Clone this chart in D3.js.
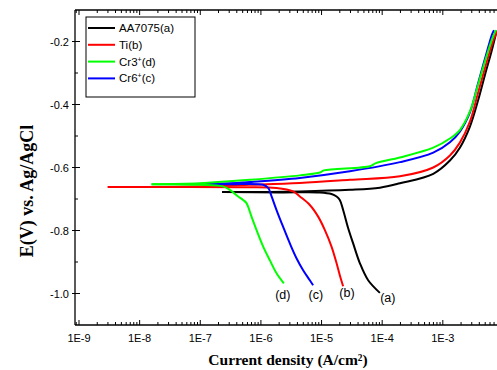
<!DOCTYPE html>
<html><head><meta charset="utf-8">
<script src="https://cdn.jsdelivr.net/npm/d3@7/dist/d3.min.js"></script>
<style>body{margin:0;background:#fff;}svg{display:block;}</style>
</head><body>
<svg id="c" width="497" height="370"></svg>
<script>
// ---- data (current density A/cm², potential V vs Ag/AgCl) ----
const seriesNames = ["AA7075(a)", "Ti(b)", "Cr3+(d)", "Cr6+(c)"];
const seriesColors = ["#000000", "#ff0000", "#00ff00", "#0000ff"];

const aa7075I = [9.16e-5,5.87e-5,4.29e-5,3.32e-5,2.75e-5,2.27e-5,2.00e-5,1.77e-5,1.46e-5,9.38e-6,2.05e-6,2.29e-7,
                 4.39e-6,2.93e-5,9.16e-5,1.96e-4,6.95e-4,1.31e-3,1.91e-3,2.80e-3,3.84e-3,4.95e-3,6.38e-3,7.73e-3];
const aa7075E = [-0.998,-0.958,-0.904,-0.841,-0.793,-0.735,-0.703,-0.692,-0.684,-0.679,-0.679,-0.678,
                 -0.676,-0.671,-0.664,-0.650,-0.620,-0.578,-0.537,-0.470,-0.385,-0.306,-0.230,-0.166];

const tiI = [2.27e-5,2.00e-5,1.77e-5,1.46e-5,1.13e-5,8.79e-6,6.41e-6,4.39e-6,3.40e-6,1.81e-6,4.49e-7,4.59e-8,2.98e-9,
             1.0e-7,6.56e-7,4.39e-6,2.93e-5,1.96e-4,6.95e-4,1.31e-3,1.91e-3,2.80e-3,3.79e-3,4.95e-3,6.47e-3,7.82e-3];
const tiE = [-0.977,-0.942,-0.904,-0.851,-0.798,-0.756,-0.719,-0.692,-0.676,-0.665,-0.663,-0.662,-0.662,
             -0.660,-0.655,-0.649,-0.639,-0.628,-0.600,-0.562,-0.521,-0.454,-0.365,-0.285,-0.209,-0.167];

const cr6I = [7.26e-6,6.41e-6,4.97e-6,3.86e-6,3.00e-6,2.32e-6,1.81e-6,1.50e-6,1.32e-6,1.09e-6,3.07e-7,7.43e-8,
              3.0e-7,6.56e-7,4.39e-6,2.93e-5,1.96e-4,6.95e-4,1.31e-3,1.91e-3,2.80e-3,3.79e-3,4.95e-3,6.47e-3,6.98e-3];
const cr6E = [-0.974,-0.958,-0.926,-0.888,-0.841,-0.788,-0.735,-0.692,-0.665,-0.655,-0.653,-0.652,
              -0.650,-0.646,-0.633,-0.612,-0.583,-0.553,-0.520,-0.486,-0.425,-0.335,-0.255,-0.178,-0.164];

const cr3I = [2.39e-6,1.81e-6,1.40e-6,1.09e-6,8.45e-7,7.00e-7,5.78e-7,5.08e-7,4.21e-7,3.07e-7,2.35e-7,9.82e-8,1.57e-8,
              1.0e-7,6.56e-7,4.39e-6,9.38e-6,1.09e-5,6.27e-5,7.87e-5,1.96e-4,6.95e-4,1.31e-3,1.91e-3,2.80e-3,3.79e-3,4.95e-3,6.47e-3,7.52e-3];
const cr3E = [-0.968,-0.936,-0.894,-0.851,-0.798,-0.756,-0.713,-0.703,-0.692,-0.671,-0.660,-0.655,-0.653,
              -0.650,-0.639,-0.625,-0.616,-0.609,-0.596,-0.586,-0.568,-0.537,-0.508,-0.481,-0.422,-0.339,-0.263,-0.193,-0.164];

const xTickValues = [1e-9,1e-8,1e-7,1e-6,1e-5,1e-4,1e-3];
const xTickLabels = ["1E-9","1E-8","1E-7","1E-6","1E-5","1E-4","1E-3"];
const yTickValues = [-0.2,-0.4,-0.6,-0.8,-1.0];
const yTickLabels = ["-0.2","-0.4","-0.6","-0.8","-1.0"];
const yMinorValues = [-0.3,-0.5,-0.7,-0.9];

const curveLabels = ["(d)","(c)","(b)","(a)"];
const curveLabelI = [2.30e-6, 8.05e-6, 2.62e-5, 1.24e-4];
const curveLabelE = [-1.002, -1.002, -0.998, -1.012];

// ---- layout ----
const svg = d3.select("#c");
const L = 75, T = 10, B = 325, R = 498;
const x = d3.scaleLog().domain([Math.pow(10,-9.066), Math.pow(10,-2.09)]).range([L, R]);
const y = d3.scaleLinear().domain([-1.1, -0.1]).range([B, T]);

const font = "'Liberation Sans', Arial, sans-serif";
const serif = "'Liberation Serif', 'Times New Roman', serif";

svg.append("defs").append("clipPath").attr("id","clip")
  .append("rect").attr("x",L).attr("y",T).attr("width",R-L).attr("height",B-T);

// curves: cathodic branch and anodic branch split at lowest current
const line = d3.line().x(d=>x(d[0])).y(d=>y(d[1])).curve(d3.curveCatmullRom.alpha(0.5));
const series = [
  {I: aa7075I, E: aa7075E, c: seriesColors[0]},
  {I: tiI, E: tiE, c: seriesColors[1]},
  {I: cr6I, E: cr6E, c: seriesColors[3]},
  {I: cr3I, E: cr3E, c: seriesColors[2]}
];
const g = svg.append("g").attr("clip-path","url(#clip)");
series.forEach(s=>{
  const pts = s.I.map((v,i)=>[v,s.E[i]]);
  const k = d3.minIndex(s.I);
  [pts.slice(0,k+1), pts.slice(k)].forEach(seg=>{
    g.append("path").datum(seg)
      .attr("d", line).attr("fill","none").attr("stroke", s.c)
      .attr("stroke-width",2).attr("stroke-linejoin","round");
  });
});

// frame
svg.append("line").attr("x1",L).attr("x2",L).attr("y1",T).attr("y2",B).attr("stroke","#000").attr("stroke-width",1.3);
svg.append("line").attr("x1",L).attr("x2",R).attr("y1",B).attr("y2",B).attr("stroke","#000").attr("stroke-width",1.3);
svg.append("line").attr("x1",L).attr("x2",R).attr("y1",T).attr("y2",T).attr("stroke","#000").attr("stroke-width",1.3);

// x ticks (major + minor), inward, bottom & top
const minor = [];
for (let e=-10;e<=-2;e++) for (let m=2;m<=9;m++){ const v=m*Math.pow(10,e); if (v>x.domain()[0] && v<x.domain()[1]) minor.push(v); }
const ax = svg.append("g");
xTickValues.forEach((v,i)=>{
  const px = x(v);
  ax.append("line").attr("x1",px).attr("x2",px).attr("y1",B).attr("y2",B-5).attr("stroke","#000");
  ax.append("line").attr("x1",px).attr("x2",px).attr("y1",T).attr("y2",T+5).attr("stroke","#000");
  ax.append("text").attr("x",px).attr("y",B+17).attr("text-anchor","middle")
    .attr("font-family",font).attr("font-size",11).text(xTickLabels[i]);
});
minor.forEach(v=>{
  const px = x(v);
  ax.append("line").attr("x1",px).attr("x2",px).attr("y1",B).attr("y2",B-3).attr("stroke","#000");
  ax.append("line").attr("x1",px).attr("x2",px).attr("y1",T).attr("y2",T+3).attr("stroke","#000");
});
// y ticks
yTickValues.forEach((v,i)=>{
  const py = y(v);
  ax.append("line").attr("x1",L-3).attr("x2",L+5).attr("y1",py).attr("y2",py).attr("stroke","#000");
  ax.append("text").attr("x",L-6).attr("y",py+4).attr("text-anchor","end")
    .attr("font-family",font).attr("font-size",11).text(yTickLabels[i]);
});
yMinorValues.forEach(v=>{
  const py = y(v);
  ax.append("line").attr("x1",L).attr("x2",L+3).attr("y1",py).attr("y2",py).attr("stroke","#000");
});

// axis titles
svg.append("text").attr("x",288).attr("y",365).attr("text-anchor","middle")
  .attr("font-family",serif).attr("font-weight","bold").attr("font-size",15.5)
  .text("Current density (A/cm²)");
svg.append("text").attr("transform","translate(33,191) rotate(-90)").attr("text-anchor","middle")
  .attr("font-family",serif).attr("font-weight","bold").attr("font-size",18)
  .text("E(V) vs. Ag/AgCl");

// curve labels
curveLabels.forEach((t,i)=>{
  svg.append("text").attr("x",x(curveLabelI[i])).attr("y",y(curveLabelE[i])+4.5)
    .attr("text-anchor","middle").attr("font-family",font).attr("font-size",12.5).text(t);
});

// legend
const lg = svg.append("g");
lg.append("rect").attr("x",86).attr("y",17).attr("width",109).attr("height",80)
  .attr("fill","#fff").attr("stroke","#000").attr("stroke-width",1);
const legendRows = [
  {name:"AA7075(a)", c:seriesColors[0]},
  {name:"Ti(b)", c:seriesColors[1]},
  {name:"Cr3", sup:"+", tail:"(d)", c:seriesColors[2]},
  {name:"Cr6", sup:"+", tail:"(c)", c:seriesColors[3]}
];
legendRows.forEach((r,i)=>{
  const yy = 28 + i*16.8;
  lg.append("line").attr("x1",88).attr("x2",115).attr("y1",yy).attr("y2",yy).attr("stroke",r.c).attr("stroke-width",2);
  const t = lg.append("text").attr("x",119).attr("y",yy+4).attr("font-family",font).attr("font-size",11.5);
  t.append("tspan").text(r.name);
  if (r.sup){
    t.append("tspan").attr("dy",-4).attr("font-size",7).text(r.sup);
    t.append("tspan").attr("dy",4).text(r.tail);
  }
});
</script>
</body></html>
